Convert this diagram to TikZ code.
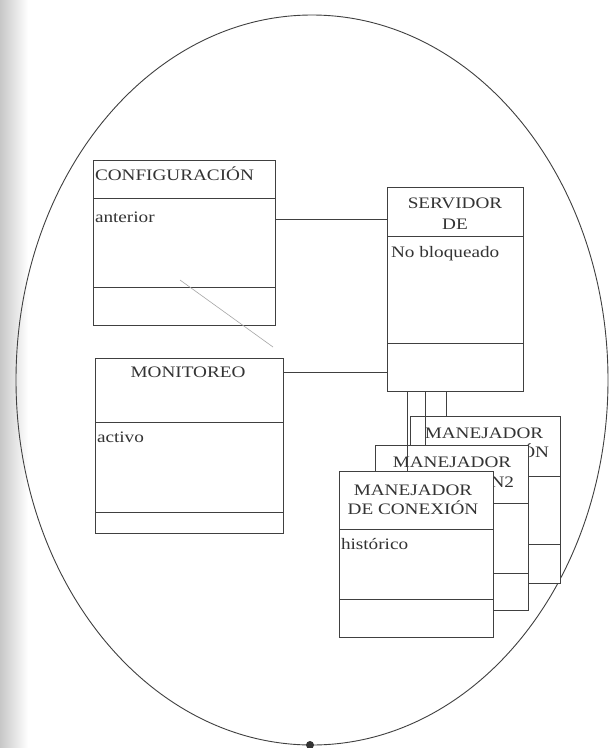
\documentclass[tikz,border=0pt]{standalone}
\usepackage{fontspec}
\setmainfont{Liberation Serif}[FakeStretch=1.2]
\begin{document}
\begin{tikzpicture}[x=1pt,y=-1pt,
  box/.style={draw=black!75, line width=0.9pt, fill=white, inner sep=0pt, outer sep=0pt},
  lbl/.style={inner sep=0pt, outer sep=0pt, text=black!80, font=\fontsize{16}{19}\selectfont},
  wire/.style={draw=black!75, line width=0.9pt},
  divider/.style={draw=black!75, line width=0.9pt}]
\useasboundingbox (0,0) rectangle (612,748);
\fill[white] (0,0) rectangle (612,748);
\shade[left color=black!22, right color=white] (0,0) rectangle (28,748);

% outer ellipse
\draw[black!75, line width=0.9pt] (312,380) ellipse [x radius=296, y radius=365];
\fill[black!80] (310,745) circle (4);

% CONFIGURACION
\node[box, minimum width=182pt, minimum height=165pt] (conf) at (184,242.5) {};
\draw[divider] (conf.west |- 0,198) -- (conf.east |- 0,198);
\draw[divider] (conf.west |- 0,287) -- (conf.east |- 0,287);
\node[lbl, anchor=base west] (confT) at (95,180) {CONFIGURACIÓN};
\node[lbl, anchor=base west] (confA) at (95,222) {anterior};

% SERVIDOR DE
\node[box, minimum width=136pt, minimum height=204pt] (serv) at (455,289) {};
\draw[divider] (serv.west |- 0,236) -- (serv.east |- 0,236);
\draw[divider] (serv.west |- 0,343) -- (serv.east |- 0,343);
\node[lbl, anchor=base] (servT1) at (455,208) {SERVIDOR};
\node[lbl, anchor=base] (servT2) at (455,229) {DE};
\node[lbl, anchor=base west] (servA) at (391,257) {No bloqueado};

% MONITOREO
\node[box, minimum width=188pt, minimum height=175pt] (mon) at (189,445.5) {};
\draw[divider] (mon.west |- 0,422) -- (mon.east |- 0,422);
\draw[divider] (mon.west |- 0,512) -- (mon.east |- 0,512);
\node[lbl, anchor=base] (monT) at (188,377) {MONITOREO};
\node[lbl, anchor=base west] (monA) at (97,442) {activo};

% MANEJADOR (back)
\node[box, minimum width=150pt, minimum height=167pt] (m3) at (485,499.5) {};
\draw[divider] (m3.west |- 0,476) -- (m3.east |- 0,476);
\draw[divider] (m3.west |- 0,544) -- (m3.east |- 0,544);
\node[lbl, anchor=base] (m3T1) at (484,438) {MANEJADOR};
\node[lbl, anchor=base east] (m3T2) at (549,457) {ÓN};

% MANEJADOR (middle)
\node[box, minimum width=153pt, minimum height=165pt] (m2) at (451.5,527.5) {};
\draw[divider] (m2.west |- 0,503) -- (m2.east |- 0,503);
\draw[divider] (m2.west |- 0,573) -- (m2.east |- 0,573);
\node[lbl, anchor=base] (m2T1) at (452,467) {MANEJADOR};
\node[lbl, anchor=base east] (m2T2) at (514,487) {ÓN2};

% MANEJADOR (front)
\node[box, minimum width=154pt, minimum height=166pt] (m1) at (416,554) {};
\draw[divider] (m1.west |- 0,529) -- (m1.east |- 0,529);
\draw[divider] (m1.west |- 0,599) -- (m1.east |- 0,599);
\node[lbl, anchor=base] (m1T1) at (413,495) {MANEJADOR};
\node[lbl, anchor=base] (m1T2) at (413,514) {DE CONEXIÓN};
\node[lbl, anchor=base west] (m1A) at (341,549) {histórico};

% connectors
\coordinate (y1) at (0,219);
\coordinate (y2) at (0,372);
\draw[wire] (conf.east |- y1) -- (serv.west |- y1);
\draw[wire] (mon.east |- y2) -- (serv.west |- y2);
\coordinate (x1) at (407,0);
\coordinate (x2) at (425,0);
\coordinate (x3) at (446,0);
\draw[wire] (serv.south -| x1) -- (m1.north -| x1);
\draw[wire] (serv.south -| x2) -- (m2.north -| x2);
\draw[wire] (serv.south -| x3) -- (m3.north -| x3);

% stray pencil mark
\draw[black!35, line width=0.6pt] (180,280) -- (273,347);
\end{tikzpicture}
\end{document}
